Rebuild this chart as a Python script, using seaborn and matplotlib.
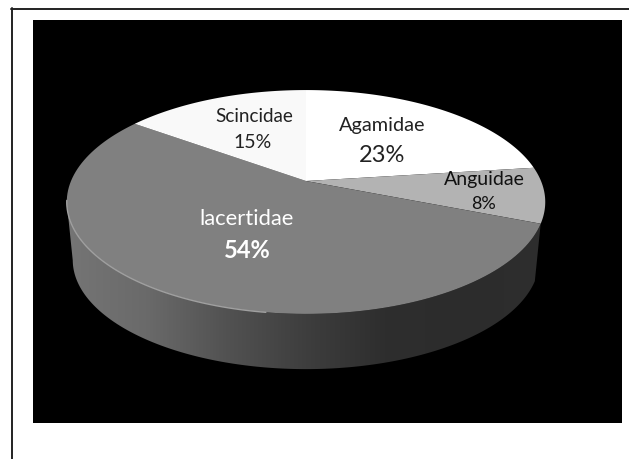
import numpy as np
import matplotlib
matplotlib.use("Agg")
import matplotlib.pyplot as plt
from matplotlib.patches import Polygon
import seaborn as sns

# 数据
families = ["Agamidae", "Anguidae", "lacertidae", "Scincidae"]
shares = [23, 8, 54, 15]
face_colors = ["#ffffff", "#b3b3b3", "#808080", "#f9f9f9"]
text_colors = ["#222222", "#111111", "#ffffff", "#222222"]
name_xy = [(382, 125), (484, 180), (247, 219), (254, 116)]
pct_xy = [(382, 155), (484, 204), (247, 250), (253, 142)]
name_sizes = [14.3, 14, 15.8, 13.6]
pct_sizes = [17, 13, 17, 14]
name_weights = ["normal", "normal", "normal", "normal"]
pct_weights = ["normal", "normal", "bold", "normal"]
wall_stops = ["#757575", "#6a6a6a", "#525252", "#3e3e3e", "#2e2e2e", "#2c2c2c", "#2e2e2e"]

sns.set_style("white")
plt.rcParams["font.family"] = ["Lato", "DejaVu Sans"]

W, H = 629, 459
APEX_X, APEX_Y = 306, 181
A, B, K = 235, 108, 0.1875
DEPTH = 58
SHRINK = 0.975


def top_edge(theta):
    # 圆 -> 透视椭圆
    th = np.radians(theta)
    u, v = np.cos(th), np.sin(th)
    d = 1 + K * v
    return APEX_X + A * u / d, APEX_Y - B * v / d


def bottom_edge(theta):
    x, y = top_edge(theta)
    return 306 + (x - 306) * SHRINK, 202 + (y - 202) * SHRINK + DEPTH


fig = plt.figure(figsize=(W / 100, H / 100), dpi=100)
ax = fig.add_axes([0, 0, 1, 1])

ax.fill_between([33, 622], 20, 423, color="black", lw=0, zorder=1)
ax.axhline(8.5, xmin=11 / W, color="#222222", lw=1.4, zorder=1)
ax.axvline(11.5, ymin=0, ymax=1 - 8 / H, color="#222222", lw=1.4, zorder=1)

# 分块角度，从正上方顺时针
edges = 90 - 3.6 * np.concatenate([[0], np.cumsum(shares)])

# 侧面
front = np.linspace(edges[2], -169, 200)
tx, ty = top_edge(front)
bx, by = bottom_edge(front)
wall = Polygon(np.vstack([np.column_stack([tx, ty]), np.column_stack([bx, by])[::-1]]),
               closed=True, fc="none", ec="none", transform=ax.transData)
ax.add_patch(wall)
pal = sns.blend_palette(wall_stops, 256)
img = ax.imshow(np.array(pal)[None, :, :], extent=[66, 545, 370, 200], aspect="auto", zorder=2)
img.set_clip_path(wall)

# 顶面
for i, c in enumerate(face_colors):
    th = np.linspace(edges[i], edges[i + 1], 120)
    x, y = top_edge(th)
    ax.fill(np.r_[APEX_X, x], np.r_[APEX_Y, y], color=c, lw=0, zorder=3)

# 左前方高光
rim_x, rim_y = top_edge(np.linspace(190, 262, 80))
ax.plot(rim_x, rim_y, color="#a0a0a0", lw=1.0, zorder=4)

for i, name in enumerate(families):
    ax.text(*name_xy[i], name, color=text_colors[i], fontsize=name_sizes[i],
            fontweight=name_weights[i], ha="center", va="center", zorder=5)
    ax.text(*pct_xy[i], f"{shares[i]}%", color=text_colors[i], fontsize=pct_sizes[i],
            fontweight=pct_weights[i], ha="center", va="center", zorder=5)

ax.set_xlim(0, W)
ax.set_ylim(H, 0)
ax.axis("off")
fig.savefig("out.png", dpi=100, facecolor="white")
plt.close(fig)
